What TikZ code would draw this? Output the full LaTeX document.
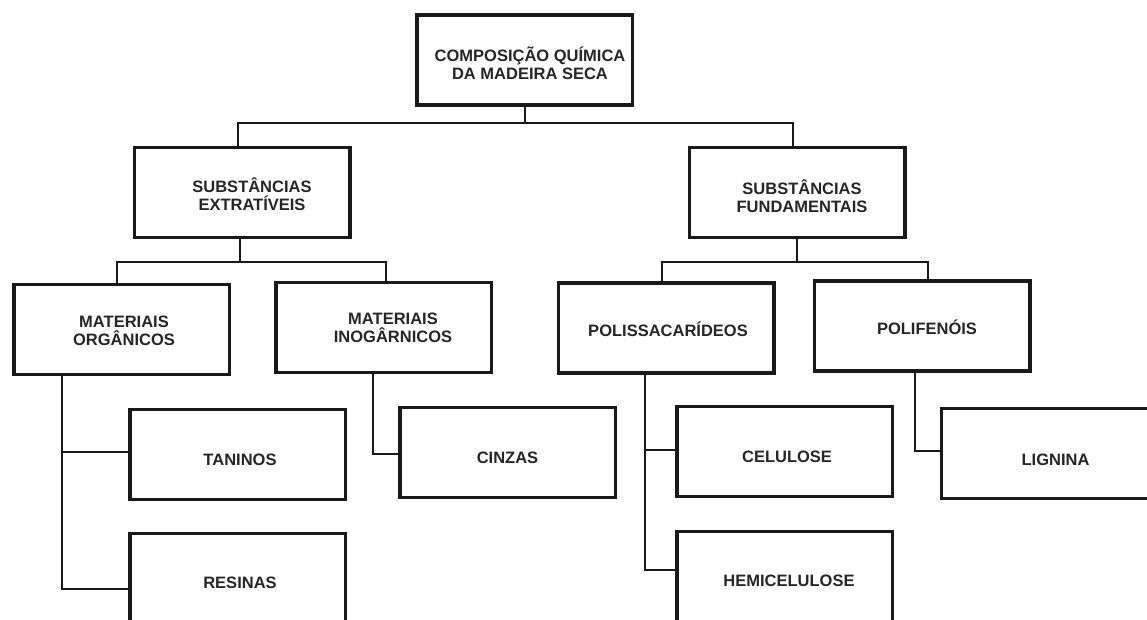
\documentclass[tikz,border=0pt]{standalone}
\usepackage{fontspec}
\setmainfont{Liberation Sans}
\begin{document}
\begin{tikzpicture}[x=1pt,y=-1pt,
  box/.style={draw=black!90, line width=3.5pt, minimum width=215.5pt, minimum height=90pt, inner sep=0pt},
  lbl/.style={font=\bfseries\fontsize{16.5}{18}\selectfont, text=black!85, align=center, inner sep=0pt},
  conn/.style={draw=black!90, line width=2pt}]

\useasboundingbox (0,0) rectangle (1147,619);
\fill[white] (0,0) rectangle (1147,619);
\clip (0,0) rectangle (1147,619);

% boxes
\node[box] (top) at (524.5,60)   {};
\node[box] (ext) at (242,192.5)  {};
\node[box] (fun) at (797,192.5)  {};
\node[box] (org) at (121.5,329.5) {};
\node[box] (ino) at (383.5,327.5) {};
\node[box] (pol) at (666,328)    {};
\node[box] (pfn) at (922,326)    {};
\node[box] (tan) at (237.5,454.5) {};
\node[box] (res) at (237.5,578.5) {};
\node[box] (cin) at (507.5,452.5) {};
\node[box] (cel) at (784.5,451.5) {};
\node[box] (hem) at (784.5,576.5) {};
\node[box] (lig) at (1049,453.5) {};

% labels
\node[lbl] (top-t) at (530,63)    {COMPOSIÇÃO QUÍMICA\\DA MADEIRA SECA};
\node[lbl] (ext-t) at (252,194)   {SUBSTÂNCIAS\\EXTRATÍVEIS};
\node[lbl] (fun-t) at (802,196)   {SUBSTÂNCIAS\\FUNDAMENTAIS};
\node[lbl] (org-t) at (124,331)   {MATERIAIS\\ORGÂNICOS};
\node[lbl] (ino-t) at (393,328)   {MATERIAIS\\INOGÂRNICOS};
\node[lbl] (pol-t) at (668,329)   {POLISSACARÍDEOS};
\node[lbl] (pfn-t) at (927,327.5) {POLIFENÓIS};
\node[lbl] (tan-t) at (240,459.5) {TANINOS};
\node[lbl] (res-t) at (240,583)   {RESINAS};
\node[lbl] (cin-t) at (507.5,458) {CINZAS};
\node[lbl] (cel-t) at (787,457)   {CELULOSE};
\node[lbl] (hem-t) at (789,581)   {HEMICELULOSE};
\node[lbl] (lig-t) at (1055.5,460) {LIGNINA};

% first level
\coordinate (j0) at (525,123);
\draw[conn] (top.south -| j0) -- (j0);
\draw[conn] ([xshift=-4pt]ext.north) |- (j0) -| ([xshift=-4pt]fun.north);

% second level
\coordinate (j1) at (240,262);
\draw[conn] (ext.south -| j1) -- (j1);
\draw[conn] ([xshift=-4.5pt]org.north) |- (j1) -| ([xshift=2.5pt]ino.north);

\coordinate (j2) at (797,262);
\draw[conn] (fun.south -| j2) -- (j2);
\draw[conn] ([xshift=-4pt]pol.north) |- (j2) -| ([xshift=6pt]pfn.north);

% third level
\coordinate (b-tan) at (62,452);
\coordinate (b-res) at (62,589);
\draw[conn] (org.south -| b-res) -- (b-res) -- (b-res -| res.west);
\draw[conn] (b-tan) -- (b-tan -| tan.west);

\coordinate (b-cin) at (373,454);
\draw[conn] (ino.south -| b-cin) -- (b-cin) -- (b-cin -| cin.west);

\coordinate (b-cel) at (645,450);
\coordinate (b-hem) at (645,570);
\draw[conn] (pol.south -| b-hem) -- (b-hem) -- (b-hem -| hem.west);
\draw[conn] (b-cel) -- (b-cel -| cel.west);

\coordinate (b-lig) at (915,451);
\draw[conn] (pfn.south -| b-lig) -- (b-lig) -- (b-lig -| lig.west);
\end{tikzpicture}
\end{document}
